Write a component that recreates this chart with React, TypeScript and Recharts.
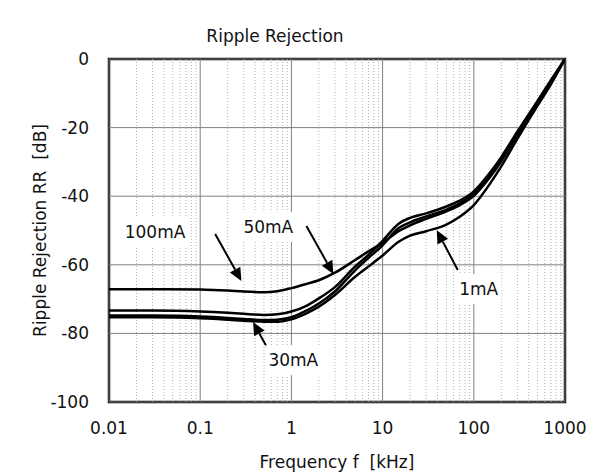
import {
  LineChart,
  Line,
  XAxis,
  YAxis,
  ReferenceLine,
  ReferenceArea,
  ReferenceDot,
  Label,
} from "recharts";

// frequency points [kHz] and ripple rejection [dB] per load current
const FREQ = [0.01, 0.03, 0.1, 0.2, 0.3, 0.5, 0.7, 1, 1.5, 2, 3, 5, 7, 10, 15, 20, 30, 50, 70, 100, 150, 200, 300, 500, 700, 1000];
const RR_100MA = [-67.1, -67.1, -67.2, -67.5, -67.8, -68.0, -67.7, -66.8, -65.5, -64.5, -62.3, -58.6, -56.1, -53.6, -50.2, -48.5, -46.6, -44.4, -42.6, -39.9, -34.5, -29.8, -22.2, -13.0, -6.9, 0];
const RR_50MA = [-73.3, -73.3, -73.6, -74.0, -74.3, -74.6, -74.4, -73.6, -71.8, -69.8, -66.5, -60.5, -57.1, -53.0, -48.0, -46.3, -45.0, -43.0, -41.3, -38.6, -33.2, -28.6, -21.2, -12.2, -6.2, 0];
const RR_30MA = [-74.8, -74.8, -75.1, -75.5, -75.8, -76.1, -76.0, -75.3, -73.2, -71.3, -67.8, -61.6, -58.0, -54.3, -49.3, -47.6, -45.9, -43.9, -42.1, -39.3, -33.9, -29.2, -21.7, -12.6, -6.6, 0];
const RR_1MA = [-75.3, -75.3, -75.6, -76.0, -76.3, -76.6, -76.6, -75.9, -74.0, -72.2, -68.8, -63.5, -60.5, -57.3, -53.3, -51.5, -50.2, -48.3, -46.0, -42.6, -36.4, -31.3, -23.3, -13.6, -7.4, 0];

const X_TICKS = [0.01, 0.1, 1, 10, 100, 1000];
const Y_TICKS = [0, -20, -40, -60, -80, -100];
const MINOR_STEPS = [2, 3, 4, 5, 6, 7, 8, 9];

// annotation: label position and arrow (tail -> tip), in data units
const NOTE_NAMES = ["100mA", "50mA", "30mA", "1mA"];
const NOTE_LABEL_F = [0.032, 0.558, 1.05, 113];
const NOTE_LABEL_DB = [-50.4, -49.0, -87.8, -67.1];
const NOTE_TAIL_F = [0.146, 1.46, 0.56, 66.7];
const NOTE_TAIL_DB = [-51.0, -48.7, -84.8, -61.5];
const NOTE_TIP_F = [0.283, 2.89, 0.38, 39.2];
const NOTE_TIP_DB = [-64.7, -62.7, -76.7, -49.9];

const FONT = "'DejaVu Sans', sans-serif";

const data = FREQ.map((f, i) => ({
  f,
  a: RR_100MA[i],
  b: RR_50MA[i],
  c: RR_30MA[i],
  d: RR_1MA[i],
}));

const minorLines = X_TICKS.slice(0, -1).flatMap((dec) => MINOR_STEPS.map((m) => dec * m));

const arrowShape = (p: any) => {
  const { x1, y1, x2, y2 } = p;
  const ang = Math.atan2(y2 - y1, x2 - x1);
  const cos = Math.cos(ang);
  const sin = Math.sin(ang);
  const len = 13;
  const half = 6;
  const bx = x2 - len * cos;
  const by = y2 - len * sin;
  const pts = `${x2},${y2} ${bx - half * sin},${by + half * cos} ${bx + half * sin},${by - half * cos}`;
  return (
    <g>
      <line x1={x1} y1={y1} x2={bx} y2={by} stroke="#000" strokeWidth={2} />
      <polygon points={pts} fill="#000" />
    </g>
  );
};

const labelShape = (text: string) => (p: any) => {
  const w = text.length * 11 + 12;
  const h = 30;
  return (
    <g>
      <rect x={p.cx - w / 2} y={p.cy - h / 2} width={w} height={h} fill="#fff" />
      <text
        x={p.cx}
        y={p.cy}
        textAnchor="middle"
        dominantBaseline="central"
        fontSize={17}
        fontFamily={FONT}
        fill="#111"
      >
        {text}
      </text>
    </g>
  );
};

export default function App() {
  return (
    <div style={{ position: "relative", width: 602, height: 464, fontFamily: FONT }}>
      <div
        style={{
          position: "absolute",
          left: -1,
          top: 2,
          width: 1,
          height: 460,
          background: "#c4c4c4",
        }}
      />
      <div
        style={{
          position: "absolute",
          left: 167,
          top: 18,
          width: 200,
          textAlign: "center",
          fontSize: 17,
          lineHeight: "20px",
          color: "#111",
        }}
      >
        Ripple Rejection
      </div>
      <LineChart
        width={602}
        height={464}
        data={data}
        margin={{ top: 51, right: 45, left: 0, bottom: 0 }}
      >
        {minorLines.map((v) => (
          <ReferenceLine
            key={`m${v}`}
            x={v}
            stroke="#b0b0b0"
            strokeWidth={1}
            strokeDasharray="1 2"
          />
        ))}
        {X_TICKS.map((v) => (
          <ReferenceLine key={`x${v}`} x={v} stroke="#808080" strokeWidth={1} />
        ))}
        {Y_TICKS.map((v) => (
          <ReferenceLine key={`y${v}`} y={v} stroke="#808080" strokeWidth={1} />
        ))}
        <ReferenceArea
          x1={0.01}
          x2={1000}
          y1={-100}
          y2={0}
          fill="none"
          stroke="#000"
          strokeWidth={2.5}
          fillOpacity={0}
        />
        <XAxis
          dataKey="f"
          type="number"
          scale="log"
          domain={[0.01, 1000]}
          ticks={X_TICKS}
          allowDataOverflow
          axisLine={false}
          tickLine={false}
          tickMargin={14}
          height={70}
          tickFormatter={(v) => String(v)}
          tick={{ fontSize: 17, fill: "#111", fontFamily: FONT }}
        >
          <Label
            value={"Frequency f\u00a0\u00a0[kHz]"}
            position="insideBottom"
            offset={4}
            style={{ fontSize: 17, fill: "#111", fontFamily: FONT }}
          />
        </XAxis>
        <YAxis
          type="number"
          domain={[-100, 0]}
          ticks={Y_TICKS}
          allowDataOverflow
          axisLine={false}
          tickLine={false}
          tickMargin={14}
          width={101}
          tick={{ fontSize: 17, fill: "#111", fontFamily: FONT }}
        >
          <Label
            value={"Ripple Rejection RR\u00a0\u00a0[dB]"}
            angle={-90}
            position="insideLeft"
            offset={32}
            style={{ textAnchor: "middle", fontSize: 17, fill: "#111", fontFamily: FONT }}
          />
        </YAxis>
        <Line type="monotone" dataKey="a" stroke="#000" strokeWidth={2.5} dot={false} isAnimationActive={false} />
        <Line type="monotone" dataKey="b" stroke="#000" strokeWidth={2.5} dot={false} isAnimationActive={false} />
        <Line type="monotone" dataKey="c" stroke="#000" strokeWidth={2.5} dot={false} isAnimationActive={false} />
        <Line type="monotone" dataKey="d" stroke="#000" strokeWidth={2.5} dot={false} isAnimationActive={false} />
        {NOTE_NAMES.map((n, i) => (
          <ReferenceLine
            key={`ar${n}`}
            segment={[
              { x: NOTE_TAIL_F[i], y: NOTE_TAIL_DB[i] },
              { x: NOTE_TIP_F[i], y: NOTE_TIP_DB[i] },
            ]}
            shape={arrowShape}
          />
        ))}
        {NOTE_NAMES.map((n, i) => (
          <ReferenceDot
            key={`lb${n}`}
            x={NOTE_LABEL_F[i]}
            y={NOTE_LABEL_DB[i]}
            r={1}
            shape={labelShape(n)}
          />
        ))}
      </LineChart>
    </div>
  );
}
